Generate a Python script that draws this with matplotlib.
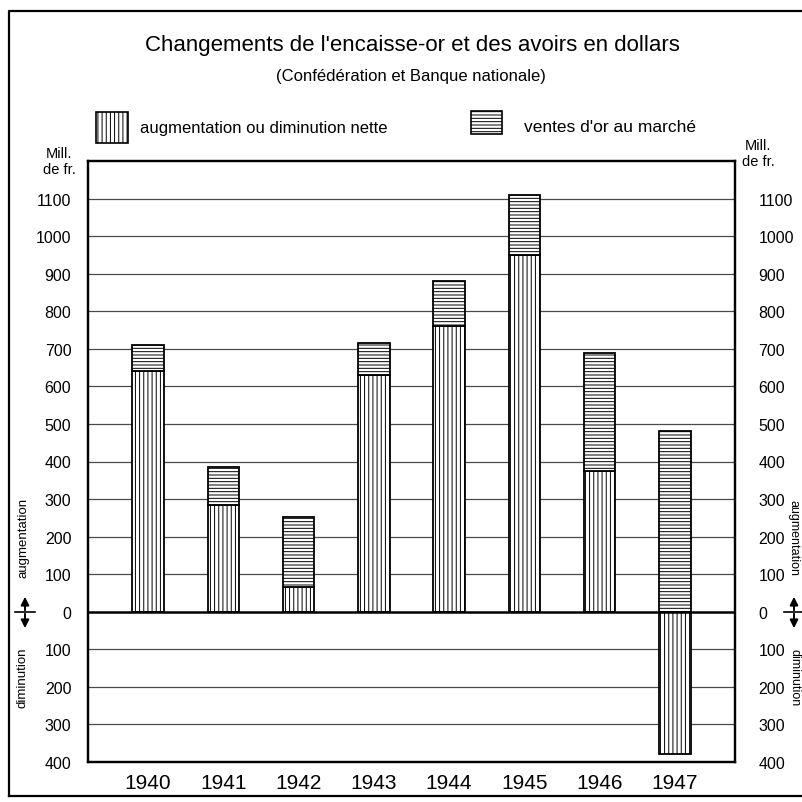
import matplotlib.pyplot as plt
from matplotlib.patches import Rectangle, FancyArrowPatch
from matplotlib.lines import Line2D

plt.rcParams['font.family'] = ['Liberation Sans', 'DejaVu Sans']
plt.rcParams['hatch.linewidth'] = 0.7

# data (Mill. de fr.)
years = ['1940', '1941', '1942', '1943', '1944', '1945', '1946', '1947']
net = [640, 285, 65, 630, 760, 950, 375, -380]      # augmentation ou diminution nette
sales = [70, 100, 188, 85, 120, 160, 313, 480]      # ventes d'or au marché
yticks = [-400, -300, -200, -100, 0, 100, 200, 300, 400, 500, 600, 700, 800, 900, 1000, 1100]

W, H = 802, 803
fig = plt.figure(figsize=(W / 100, H / 100), dpi=100)

def fx(px):
    return px / W

def fy(py):
    return 1 - py / H

ax = fig.add_axes([fx(88), fy(763), fx(735) - fx(88), fy(162) - fy(763)])
x = list(range(len(years)))

# grid first, behind the white bars
for v in yticks[1:]:
    if v == 0:
        continue
    ax.axhline(v, color='#4a4a4a', lw=0.9, zorder=1)
ax.axhline(0, color='black', lw=1.8, zorder=4)

bottoms = [max(n, 0) for n in net]
ax.bar(x, net, width=0.42, color='white', edgecolor='black', hatch='||||',
       linewidth=1.3, zorder=3)
ax.bar(x, sales, bottom=bottoms, width=0.42, color='white', edgecolor='black',
       hatch='-----', linewidth=1.3, zorder=3)

ax.set_xlim(-0.8, 7.8)
ax.set_ylim(-400, 1200)
ax.set_xticks(x)
ax.set_xticklabels(years, fontsize=15)
ax.set_yticks(yticks)
ax.set_yticklabels([str(abs(v)) for v in yticks], fontsize=11.5)
ax.tick_params(axis='y', length=0, pad=12)
ax.tick_params(axis='x', length=0, pad=8)
for s in ax.spines.values():
    s.set_linewidth(1.6)

ax2 = ax.twinx()
ax2.set_ylim(-400, 1200)
ax2.set_yticks(yticks)
ax2.set_yticklabels([str(abs(v)) for v in yticks], fontsize=11.5)
ax2.tick_params(axis='y', length=0, pad=17)
for s in ax2.spines.values():
    s.set_linewidth(1.6)

# titles
fig.text(fx(412), fy(45), "Changements de l'encaisse-or et des avoirs en dollars",
         ha='center', va='center', fontsize=16)
fig.text(fx(411), fy(77), "(Confédération et Banque nationale)",
         ha='center', va='center', fontsize=12)

# legend
fig.patches.append(Rectangle((fx(96), fy(144)), fx(128) - fx(96), fy(113) - fy(144),
                             transform=fig.transFigure, facecolor='white',
                             edgecolor='black', hatch='||||', lw=1.2))
fig.text(fx(140), fy(128), "augmentation ou diminution nette", ha='left', va='center',
         fontsize=12)
fig.patches.append(Rectangle((fx(471), fy(135)), fx(502) - fx(471), fy(112) - fy(135),
                             transform=fig.transFigure, facecolor='white',
                             edgecolor='black', hatch='-----', lw=1.2))
fig.text(fx(524), fy(127), "ventes d'or au marché", ha='left', va='center', fontsize=12.5)

# units
fig.text(fx(59), fy(162), "Mill.\nde fr.", ha='center', va='center', fontsize=10.5,
         linespacing=1.25)
fig.text(fx(758), fy(154), "Mill.\nde fr.", ha='center', va='center', fontsize=10.5,
         linespacing=1.25)

# side labels
fig.text(fx(24), fy(538), "augmentation", rotation=90, ha='center', va='center', fontsize=9.5)
fig.text(fx(22), fy(678), "diminution", rotation=90, ha='center', va='center', fontsize=9.5)
fig.text(fx(794), fy(538), "augmentation", rotation=270, ha='center', va='center', fontsize=9)
fig.text(fx(794), fy(678), "diminution", rotation=270, ha='center', va='center', fontsize=9)

# double arrows
for cx in (25, 794):
    fig.add_artist(Line2D([fx(cx - 10), fx(cx + 10)], [fy(613), fy(613)], color='black',
                          lw=1.2, transform=fig.transFigure))
    fig.patches.append(FancyArrowPatch(
        (fx(cx), fy(614)), (fx(cx), fy(595)), transform=fig.transFigure,
        arrowstyle='-|>', mutation_scale=12, color='black', lw=1.4))
    fig.patches.append(FancyArrowPatch(
        (fx(cx), fy(612)), (fx(cx), fy(632)), transform=fig.transFigure,
        arrowstyle='-|>', mutation_scale=12, color='black', lw=1.4))

# outer frame
fig.add_artist(Line2D([fx(9), fx(9), fx(802)], [fy(797), fy(12), fy(12)], color='black',
                      lw=1.6, transform=fig.transFigure))
fig.add_artist(Line2D([fx(9), fx(802)], [fy(797), fy(797)], color='black',
                      lw=1.6, transform=fig.transFigure))

fig.savefig('out.png', dpi=100)
